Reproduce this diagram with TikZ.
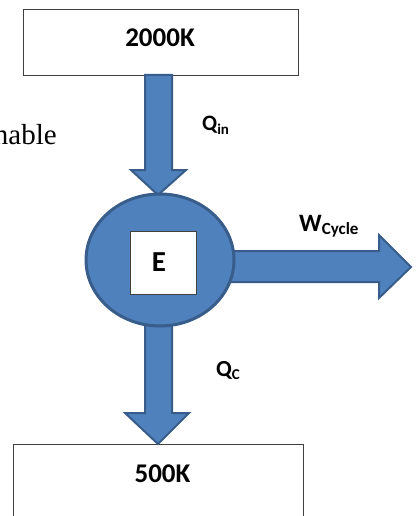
\documentclass[tikz,border=0pt]{standalone}
\usepackage{fontspec}
\setmainfont{Carlito}
\newfontfamily\serifface{Liberation Serif}
\usetikzlibrary{calc,shapes.geometric}
\definecolor{abfill}{HTML}{4F81BD}
\definecolor{abline}{HTML}{385D8A}
\tikzset{
  blockarrow/.style={fill=abfill, draw=abline, line width=2pt, line join=miter},
  tbox/.style={draw=black!75, line width=0.8pt, fill=white, inner sep=0pt},
  lbl/.style={inner sep=0pt, font=\bfseries},
}
\begin{document}
\begin{tikzpicture}[x=1pt,y=-1pt]
\clip (0,0) rectangle (416,516);
\fill[white] (0,0) rectangle (416,516);
% reservoirs
\node[tbox, minimum width=275pt, minimum height=66pt, anchor=north west] (hot) at (23,9) {};
\node[tbox, minimum width=290pt, minimum height=90pt, anchor=north west] (cold) at (13,444) {};
% arrows
\draw[blockarrow] (145,75) -- (172,75) -- (172,170) -- (186,170) -- (158,195) -- (131,170) -- (145,170) -- cycle;
\draw[blockarrow] (145,300) -- (172,300) -- (172,413) -- (189,413) -- (158,444) -- (125,413) -- (145,413) -- cycle;
\draw[blockarrow] (225,251) -- (379,251) -- (379,235) -- (411,267) -- (379,298) -- (379,282) -- (225,282) -- cycle;
% engine
\node[draw=abline, fill=abfill, line width=3pt, ellipse, minimum width=148pt, minimum height=132pt, inner sep=0pt] (engine) at (160,260) {};
\node[tbox, minimum width=66pt, minimum height=63pt] (ebox) at (163.5,262.5) {};
% texts
\node[lbl, anchor=base, font=\bfseries\fontsize{27}{27}\selectfont] (hottxt) at (160,47) {2000K};
\node[lbl, anchor=base, font=\bfseries\fontsize{27}{27}\selectfont] (coldtxt) at (162.5,482) {500K};
\node[lbl, anchor=base, font=\bfseries\fontsize{29}{29}\selectfont] (etxt) at (159,271) {E};
\node[lbl, anchor=base west, font=\bfseries\fontsize{22}{22}\selectfont] (qin) at (202,131) {Q\raisebox{-3pt}{\fontsize{15}{15}\selectfont in}};
\node[lbl, anchor=base west, font=\bfseries\fontsize{25}{25}\selectfont] (wcyc) at (299,231) {W\raisebox{-3pt}{\fontsize{17}{17}\selectfont Cycle}};
\node[lbl, anchor=base west, font=\bfseries\fontsize{23}{23}\selectfont] (qc) at (216,376) {Q\raisebox{-3pt}{\fontsize{15}{15}\selectfont C}};
\node[inner sep=0pt, anchor=base east, font=\serifface\fontsize{29}{29}\selectfont] (nable) at (57,144) {nable};
\end{tikzpicture}
\end{document}
